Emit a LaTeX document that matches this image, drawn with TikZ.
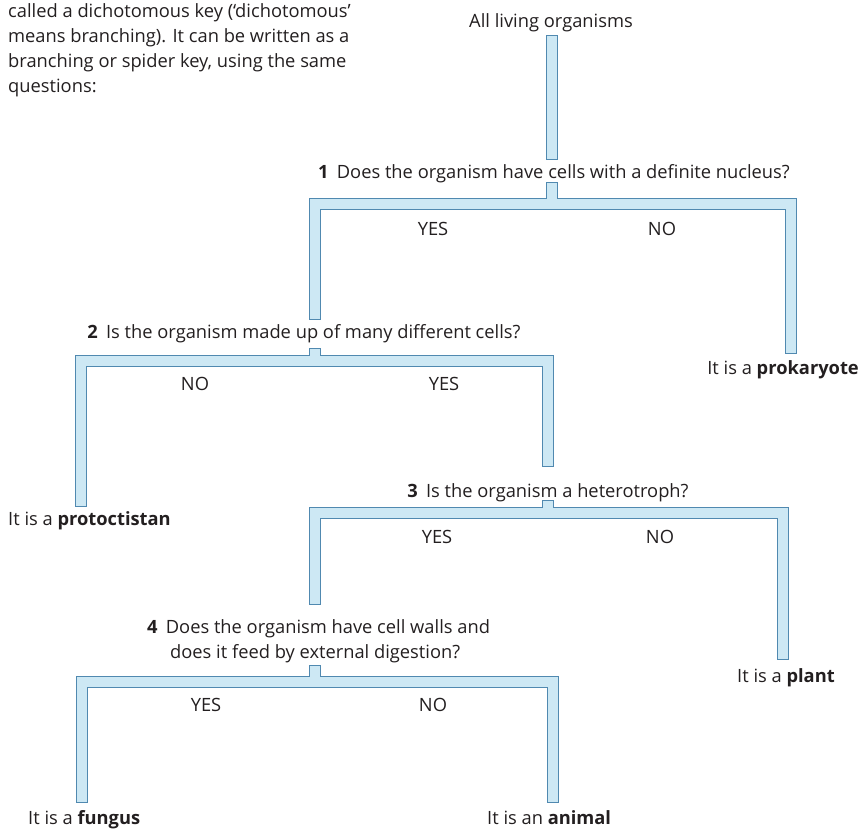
\documentclass[tikz,border=0pt]{standalone}
\usepackage{fontspec}
\setmainfont{Open Sans}
\definecolor{pipeline}{HTML}{5089B0}
\definecolor{pipefill}{HTML}{CDE8F4}
\definecolor{ink}{HTML}{231F20}
\begin{document}
\begin{tikzpicture}[x=1pt,y=-1pt,
  pipeout/.style={line width=12pt, draw=pipeline, line cap=rect, line join=miter},
  pipein/.style={line width=9.4pt, draw=pipefill, line cap=rect, line join=miter},
  txt/.style={inner sep=0pt, anchor=base, font=\fontsize{18.3}{25}\selectfont, text=ink},
  txtl/.style={txt, anchor=base west},
  txtr/.style={txt, anchor=base east}]
\useasboundingbox (0,0) rectangle (859,831);
\fill[white] (0,0) rectangle (859,831);

% intro paragraph
\node[txtl] (intro1) at (8,17) {called a dichotomous key (‘dichotomous’};
\node[txtl] (intro2) at (8,42) {means branching). It can be written as a};
\node[txtl] (intro3) at (8,67) {branching or spider key, using the same};
\node[txtl] (intro4) at (8,92) {questions:};

% key texts
\node[txt] (root) at (551,27) {All living organisms};
\node[txt] (q1) at (554,178) {\textbf{1}\hspace{0.45em}Does the organism have cells with a definite nucleus?};
\node[txt] (q2) at (304,338) {\textbf{2}\hspace{0.45em}Is the organism made up of many different cells?};
\node[txt] (q3) at (548,497) {\textbf{3}\hspace{0.45em}Is the organism a heterotroph?};
\node[txtl] (q4a) at (147,633) {\textbf{4}\hspace{0.45em}Does the organism have cell walls and};
\node[txtl] (q4b) at (170,658) {does it feed by external digestion?};

\node[txt] (yes1) at (433,235) {YES};
\node[txt] (no1) at (662,235) {NO};
\node[txt] (no2) at (195,390) {NO};
\node[txt] (yes2) at (444,390) {YES};
\node[txt] (yes3) at (437,543) {YES};
\node[txt] (no3) at (660,543) {NO};
\node[txt] (yes4) at (206,711) {YES};
\node[txt] (no4) at (433,711) {NO};

\node[txtr] (prok) at (859,374) {It is a \textbf{prokaryote}};
\node[txtl] (prot) at (8,525) {It is a \textbf{protoctistan}};
\node[txtl] (plant) at (737,682) {It is a \textbf{plant}};
\node[txtl] (fung) at (28,824) {It is a \textbf{fungus}};
\node[txtl] (anim) at (487,824) {It is an \textbf{animal}};

% pipe coordinates
\coordinate (p0a) at (552,41);  \coordinate (p0b) at (552,154);
\coordinate (s1a) at (552,188); \coordinate (s1b) at (552,204);
\coordinate (h1l) at (315,204); \coordinate (h1r) at (791,204);
\coordinate (h1ld) at (315,314); \coordinate (h1rd) at (791,348);
\coordinate (s2a) at (315,354); \coordinate (s2b) at (315,361);
\coordinate (h2l) at (81,361); \coordinate (h2r) at (548,361);
\coordinate (h2ld) at (81,501); \coordinate (h2rd) at (548,461);
\coordinate (s3a) at (548,506); \coordinate (s3b) at (548,513);
\coordinate (h3l) at (315,513); \coordinate (h3r) at (783,513);
\coordinate (h3ld) at (315,599); \coordinate (h3rd) at (783,654);
\coordinate (s4a) at (315,671); \coordinate (s4b) at (315,682);
\coordinate (h4l) at (82,682); \coordinate (h4r) at (553,682);
\coordinate (h4ld) at (82,797); \coordinate (h4rd) at (553,797);

\foreach \st in {pipeout,pipein}{
  \draw[\st] (p0a) -- (p0b);
  \draw[\st] (s1a) -- (s1b);
  \draw[\st] (h1ld) -- (h1l) -- (h1r) -- (h1rd);
  \draw[\st] (s2a) -- (s2b);
  \draw[\st] (h2ld) -- (h2l) -- (h2r) -- (h2rd);
  \draw[\st] (s3a) -- (s3b);
  \draw[\st] (h3ld) -- (h3l) -- (h3r) -- (h3rd);
  \draw[\st] (s4a) -- (s4b);
  \draw[\st] (h4ld) -- (h4l) -- (h4r) -- (h4rd);
}
\end{tikzpicture}
\end{document}
